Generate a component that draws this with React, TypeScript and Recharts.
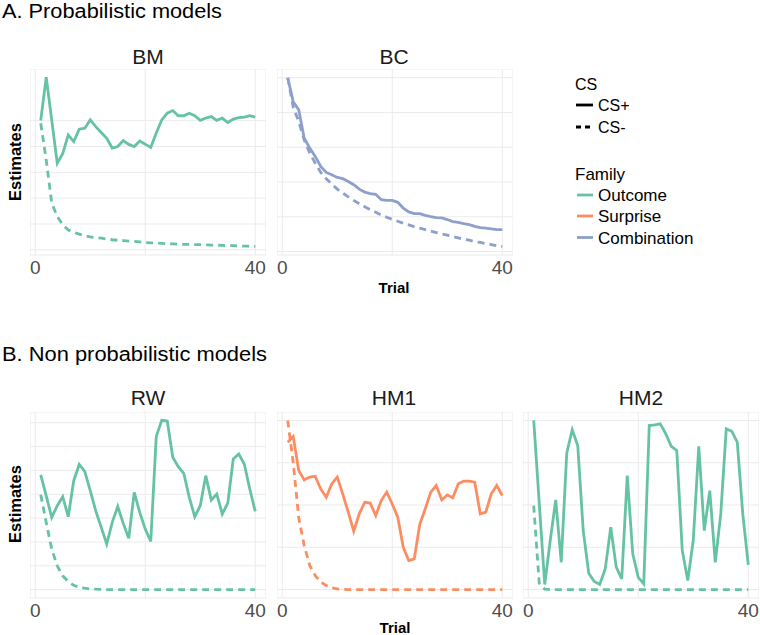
import { LineChart, Line, XAxis, YAxis, CartesianGrid } from 'recharts';

const trials = [1, 2, 3, 4, 5, 6, 7, 8, 9, 10, 11, 12, 13, 14, 15, 16, 17, 18, 19, 20,
  21, 22, 23, 24, 25, 26, 27, 28, 29, 30, 31, 32, 33, 34, 35, 36, 37, 38, 39, 40];

// CS+ (solid) and CS- (dashed) estimates per model
const bmPlus = [5.01, 6.68, 5.02, 3.35, 3.72, 4.45, 4.19, 4.67, 4.71, 5.03, 4.77, 4.54, 4.32, 3.94, 4.0, 4.23, 4.08, 4.0, 4.21, 4.09,
  3.96, 4.52, 5.03, 5.29, 5.39, 5.19, 5.19, 5.29, 5.19, 5.01, 5.1, 5.16, 5.01, 5.1, 4.93, 5.06, 5.12, 5.14, 5.19, 5.14];
const bmMinus = [4.9, 3.48, 1.81, 1.29, 0.97, 0.77, 0.68, 0.61, 0.55, 0.5, 0.47, 0.45, 0.42, 0.39, 0.37, 0.36, 0.34, 0.33, 0.31, 0.28,
  0.27, 0.26, 0.25, 0.24, 0.23, 0.22, 0.21, 0.21, 0.2, 0.2, 0.19, 0.18, 0.18, 0.17, 0.16, 0.16, 0.15, 0.14, 0.14, 0.13];

const bcPlus = [10.0, 8.62, 8.15, 6.52, 5.95, 5.47, 4.89, 4.55, 4.42, 4.26, 4.19, 4.03, 3.84, 3.59, 3.42, 3.33, 3.29, 2.98, 2.94, 2.94,
  2.83, 2.5, 2.28, 2.18, 2.18, 2.08, 2.01, 1.95, 1.93, 1.84, 1.72, 1.68, 1.61, 1.55, 1.45, 1.38, 1.34, 1.3, 1.26, 1.26];
const bcMinus = [10.0, 8.3, 7.48, 6.42, 5.66, 5.09, 4.55, 4.19, 3.88, 3.59, 3.37, 3.14, 2.94, 2.75, 2.58, 2.41, 2.26, 2.1, 1.97, 1.85,
  1.74, 1.63, 1.53, 1.43, 1.34, 1.26, 1.17, 1.09, 1.01, 0.94, 0.86, 0.78, 0.71, 0.65, 0.57, 0.52, 0.46, 0.4, 0.34, 0.29];

const rwPlus = [4.81, 3.93, 3.03, 3.52, 3.9, 3.06, 4.57, 5.25, 4.96, 4.15, 3.31, 2.61, 1.91, 2.82, 3.49, 2.78, 2.15, 4.08, 3.24, 2.54,
  2.02, 6.42, 7.1, 7.07, 5.55, 5.16, 4.88, 3.87, 3.06, 3.52, 4.78, 3.76, 4.01, 3.17, 3.63, 5.48, 5.69, 5.27, 4.22, 3.28];
const rwMinus = [3.98, 2.82, 1.7, 1.0, 0.58, 0.34, 0.18, 0.1, 0.06, 0.03, 0.02, 0.01, 0, 0, 0, 0, 0, 0, 0, 0,
  0, 0, 0, 0, 0, 0, 0, 0, 0, 0, 0, 0, 0, 0, 0, 0, 0, 0, 0, 0];

const hm1Plus = [6.97, 7.24, 5.63, 5.19, 5.32, 5.36, 4.76, 4.37, 5.0, 5.32, 4.53, 3.66, 2.76, 3.58, 4.13, 4.09, 3.5, 4.21, 4.61, 4.05,
  3.42, 2.0, 1.37, 1.45, 3.08, 3.82, 4.61, 4.92, 4.24, 4.48, 4.34, 5.0, 5.13, 5.13, 5.08, 3.58, 3.66, 4.53, 4.92, 4.45];
const hm1Minus = [8.0, 6.0, 3.4, 2.08, 1.14, 0.66, 0.35, 0.19, 0.08, 0.03, 0.01, 0, 0, 0, 0, 0, 0, 0, 0, 0,
  0, 0, 0, 0, 0, 0, 0, 0, 0, 0, 0, 0, 0, 0, 0, 0, 0, 0, 0, 0];

const hm2Plus = [8.0, 4.1, 0.24, 2.32, 4.24, 1.29, 6.45, 7.56, 6.81, 2.79, 0.77, 0.38, 0.24, 0.98, 2.95, 1.06, 0.5, 5.39, 1.69, 0.58,
  0.27, 7.76, 7.79, 7.84, 7.37, 6.78, 6.58, 1.85, 0.43, 2.32, 6.77, 2.79, 4.68, 1.29, 3.58, 7.6, 7.49, 6.97, 3.58, 1.17];
const hm2Minus = [3.97, 0.3, 0.02, 0, 0, 0, 0, 0, 0, 0, 0, 0, 0, 0, 0, 0, 0, 0, 0, 0,
  0, 0, 0, 0, 0, 0, 0, 0, 0, 0, 0, 0, 0, 0, 0, 0, 0, 0, 0, 0];

const xTicks = [0, 20, 40];

const OUTCOME = '#66c2a5';
const SURPRISE = '#fc8d62';
const COMBINATION = '#8da0cb';
const FONT = '"Liberation Sans", Arial, sans-serif';

const PLOT_W = 236;
const PLOT_H = 186;
const AXIS_H = 26;

function toRows(plus: number[], minus: number[]) {
  return trials.map((t, i) => ({ trial: t, plus: plus[i], minus: minus[i] }));
}

const XTick = (props: any) => {
  const { x, y, payload } = props;
  if (payload.value === 20) return null;
  return (
    <text x={x} y={y + 19} textAnchor="middle" fill="#4d4d4d" fontSize={19} fontFamily={FONT}>
      {payload.value}
    </text>
  );
};

interface PanelProps {
  left: number;
  top: number;
  plus: number[];
  minus: number[];
  color: string;
  domain: [number, number];
  yTicks: number[];
}

function Panel({ left, top, plus, minus, color, domain, yTicks }: PanelProps) {
  const data = toRows(plus, minus);
  return (
    <div style={{ position: 'absolute', left, top }}>
      <LineChart width={PLOT_W} height={PLOT_H + AXIS_H} data={data} margin={{ top: 0, right: 0, bottom: 0, left: 0 }}>
        <CartesianGrid stroke="#ebebeb" strokeWidth={1} />
        <XAxis
          type="number"
          dataKey="trial"
          domain={[-0.95, 41.95]}
          allowDataOverflow
          ticks={xTicks}
          axisLine={false}
          tickLine={false}
          tickSize={0}
          tickMargin={0}
          height={AXIS_H}
          tick={<XTick />}
          interval={0}
        />
        <YAxis type="number" domain={domain} allowDataOverflow ticks={yTicks} hide />
        <Line type="linear" dataKey="minus" stroke={color} strokeWidth={2.8} strokeDasharray="7 5" dot={false} isAnimationActive={false} />
        <Line type="linear" dataKey="plus" stroke={color} strokeWidth={2.8} dot={false} isAnimationActive={false} />
      </LineChart>
    </div>
  );
}

export default function App() {
  return (
    <div style={{ position: 'absolute', left: 0, top: 0, width: 760, height: 635, background: '#fff', overflow: 'hidden' }}>
      <Panel left={30} top={69} plus={bmPlus} minus={bmMinus} color={OUTCOME} domain={[-0.2, 7.0]} yTicks={[0, 1, 2, 3, 4, 5, 6, 7]} />
      <Panel left={276.5} top={69} plus={bcPlus} minus={bcMinus} color={COMBINATION} domain={[-0.2, 10.5]} yTicks={[0, 1, 2, 3, 4, 5, 6, 7, 8, 9, 10]} />
      <Panel left={30} top={411.5} plus={rwPlus} minus={rwMinus} color={OUTCOME} domain={[-0.35, 7.45]} yTicks={[0, 1, 2, 3, 4, 5, 6, 7]} />
      <Panel left={276.5} top={411.5} plus={hm1Plus} minus={hm1Minus} color={SURPRISE} domain={[-0.4, 8.4]} yTicks={[0, 1, 2, 3, 4, 5, 6, 7, 8]} />
      <Panel left={523} top={411.5} plus={hm2Plus} minus={hm2Minus} color={OUTCOME} domain={[-0.4, 8.4]} yTicks={[0, 1, 2, 3, 4, 5, 6, 7, 8]} />

      <svg width={760} height={635} style={{ position: 'absolute', left: 0, top: 0, pointerEvents: 'none' }} fontFamily={FONT}>
        <text x={2} y={17.5} fontSize={20} textLength={220} lengthAdjust="spacingAndGlyphs" fill="#000">A. Probabilistic models</text>
        <text x={2} y={361} fontSize={20} textLength={265} lengthAdjust="spacingAndGlyphs" fill="#000">B. Non probabilistic models</text>

        <text x={148} y={63.5} fontSize={21} textAnchor="middle" fill="#1a1a1a">BM</text>
        <text x={394} y={63.5} fontSize={21} textAnchor="middle" fill="#1a1a1a">BC</text>
        <text x={148} y={405} fontSize={21} textAnchor="middle" fill="#1a1a1a">RW</text>
        <text x={394} y={405} fontSize={21} textAnchor="middle" fill="#1a1a1a">HM1</text>
        <text x={641} y={405} fontSize={21} textAnchor="middle" fill="#1a1a1a">HM2</text>

        <text x={21} y={162} fontSize={16.5} fontWeight="bold" textAnchor="middle" transform="rotate(-90 21 162)">Estimates</text>
        <text x={21} y={504} fontSize={16.5} fontWeight="bold" textAnchor="middle" transform="rotate(-90 21 504)">Estimates</text>
        <text x={394} y={293} fontSize={15} fontWeight="bold" textAnchor="middle">Trial</text>
        <text x={395} y={633} fontSize={15} fontWeight="bold" textAnchor="middle">Trial</text>

        <text x={575} y={90} fontSize={16}>CS</text>
        <line x1={576} y1={105} x2={593} y2={105} stroke="#000" strokeWidth={2.8} />
        <text x={598} y={111} fontSize={16}>CS+</text>
        <line x1={576} y1={127} x2={593} y2={127} stroke="#000" strokeWidth={2.8} strokeDasharray="5 4" />
        <text x={598} y={133} fontSize={16}>CS-</text>

        <text x={575} y={180} fontSize={17}>Family</text>
        <line x1={577} y1={195} x2={593} y2={195} stroke={OUTCOME} strokeWidth={2.8} />
        <text x={598} y={201} fontSize={17}>Outcome</text>
        <line x1={577} y1={216} x2={593} y2={216} stroke={SURPRISE} strokeWidth={2.8} />
        <text x={598} y={222} fontSize={17}>Surprise</text>
        <line x1={577} y1={237.5} x2={593} y2={237.5} stroke={COMBINATION} strokeWidth={2.8} />
        <text x={598} y={243.5} fontSize={17}>Combination</text>
      </svg>
    </div>
  );
}
